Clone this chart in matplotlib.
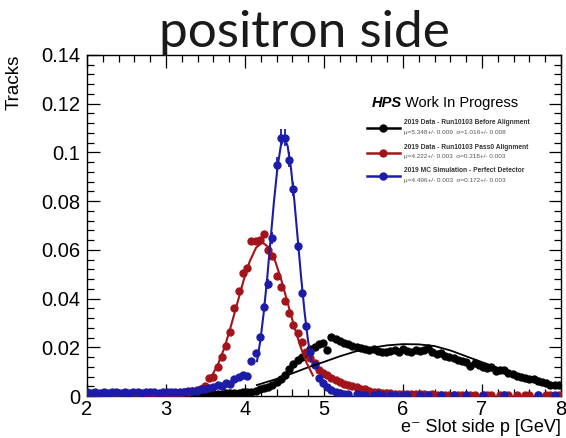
import numpy as np
import matplotlib
matplotlib.use("Agg")
from matplotlib import pyplot as plt
from matplotlib.ticker import MultipleLocator

nan = np.nan

# histogram binning: 150 bins from 0 to 8 GeV, shown from 2 to 8
edges = np.linspace(0, 8, 151)
centers = 0.5 * (edges[1:] + edges[:-1])
x = centers[37:]

# 2019 Data - Run10103 Before Alignment
black_y = [0.0004, 0.0005, 0.0004, 0.0005, 0.0004, 0.0005, 0.0005, 0.0004, 0.0005, 0.0005,
           0.0004, 0.0005, 0.0005, 0.0006, 0.0005, 0.0005, 0.0006, 0.0005, 0.0006, 0.0006,
           0.0006, 0.0005, 0.0006, 0.0007, 0.0006, 0.0007, 0.0007, 0.0008, 0.0008, 0.0009,
           0.0009, 0.0010, 0.0010, 0.0011, 0.0012, 0.0013, 0.0014, 0.0015, 0.0016, 0.0018,
           0.0021, 0.0027, 0.0031, 0.0037, 0.0046, 0.0056, 0.0070, 0.0088, 0.0110, 0.0132,
           0.0148, 0.0160, 0.0178, 0.0192, 0.0203, 0.0212, 0.0216, 0.0190, 0.0243, 0.0233,
           0.0225, 0.0219, 0.0212, 0.0205, 0.0201, 0.0196, 0.0193, 0.0189, 0.0192, 0.0184,
           0.0180, 0.0179, 0.0183, 0.0188, 0.0182, 0.0192, 0.0185, 0.0182, 0.0189, 0.0185,
           0.0189, 0.0196, 0.0182, 0.0172, 0.0175, 0.0165, 0.0160, 0.0155, 0.0148, 0.0143,
           0.0141, 0.0124, 0.0134, 0.0127, 0.0118, 0.0114, 0.0120, 0.0102, 0.0107, 0.0106,
           0.0095, 0.0089, 0.0084, 0.0078, 0.0073, 0.0068, 0.0068, 0.0062, 0.0056, 0.0052,
           0.0047, 0.0045, 0.0044]

# 2019 Data - Run10103 Pass0 Alignment
red_y = [0.0003, 0.0004, 0.0003, 0.0005, 0.0004, 0.0005, 0.0004, 0.0006, 0.0005, 0.0006,
         0.0005, 0.0007, 0.0006, 0.0007, 0.0008, 0.0007, 0.0009, 0.0008, 0.0010, 0.0009,
         0.0011, 0.0012, 0.0013, 0.0015, 0.0017, 0.0020, 0.0024, 0.0030, 0.0040, 0.0073,
         0.0080, 0.0118, 0.0162, 0.0206, 0.0262, 0.0360, 0.0432, 0.0504, 0.0527, 0.0636,
         0.0638, 0.0640, 0.0664, 0.0600, 0.0575, 0.0493, 0.0446, 0.0390, 0.0340, 0.0292,
         0.0257, 0.0223, 0.0180, 0.0155, 0.0135, 0.0107, 0.0095, 0.0086, 0.0073, 0.0065,
         0.0059, 0.0050, 0.0045, 0.0040, 0.0036, 0.0030, 0.0027, 0.0022, 0.0018, 0.0016,
         0.0014, 0.0012, 0.0011, 0.0010, 0.0010, 0.0009, 0.0009, 0.0008, 0.0008, 0.0007,
         0.0007, 0.0006, 0.0007, 0.0006, 0.0006, 0.0005, 0.0006, 0.0005, 0.0005, 0.0006,
         0.0005, 0.0004, 0.0005, nan, 0.0005, 0.0004, 0.0005, nan, 0.0004, 0.0005,
         0.0004, nan, 0.0005, nan, 0.0004, 0.0004, nan, 0.0005, nan, 0.0004,
         0.0005, nan, 0.0004]

# 2019 MC Simulation - Perfect Detector
blue_y = [0.0016, 0.0014, 0.0015, 0.0013, 0.0016, 0.0014, 0.0015, 0.0017, 0.0013, 0.0015,
          0.0014, 0.0016, 0.0015, 0.0013, 0.0016, 0.0015, 0.0017, 0.0014, 0.0016, 0.0015,
          0.0017, 0.0016, 0.0018, 0.0017, 0.0019, 0.0021, 0.0022, 0.0027, 0.0030, 0.0034,
          0.0036, 0.0045, 0.0040, 0.0052, 0.0048, 0.0068, 0.0076, 0.0086, 0.0082, 0.0142,
          0.0176, 0.0244, 0.0367, 0.0460, 0.0650, 0.0950, 0.1060, 0.1060, 0.0970, 0.0850,
          0.0616, 0.0424, 0.0287, 0.0180, 0.0127, 0.0075, 0.0052, 0.0036, 0.0024, 0.0016,
          0.0011, 0.0009, 0.0007, nan, 0.0008, 0.0006, 0.0006, nan, 0.0005, 0.0007,
          0.0005, nan, 0.0006, 0.0005, nan, 0.0006, 0.0005, nan, nan, 0.0006,
          nan, 0.0005, nan, nan, 0.0006, nan, nan, 0.0005, nan, nan,
          0.0005, nan, nan, nan, 0.0006, nan, nan, nan, nan, 0.0005,
          nan, nan, nan, nan, nan, nan, nan, 0.0005, nan, nan,
          nan, 0.0005, nan]
blue_peak_err = [0.0015, 0.002, 0.0025, 0.003, 0.0035, 0.0035, 0.003, 0.0028, 0.0022]

# fitted curves
black_fit_x = [4.15, 4.4, 4.6, 4.8, 5.0, 5.2, 5.4, 5.6, 5.8, 6.0,
               6.2, 6.4, 6.6, 6.8, 7.0, 7.2, 7.4, 7.6, 7.8, 8.0]
black_fit_y = [0.0045, 0.0070, 0.0093, 0.0118, 0.0140, 0.0163, 0.0183, 0.0198, 0.0208, 0.0213,
               0.0212, 0.0205, 0.0187, 0.0163, 0.0139, 0.0116, 0.0094, 0.0075, 0.0058, 0.0045]
red_fit_x = [3.58, 3.66, 3.74, 3.82, 3.90, 3.98, 4.06, 4.14, 4.22,
             4.30, 4.38, 4.46, 4.54, 4.62, 4.70, 4.78, 4.86]
red_fit_y = [0.0082, 0.0132, 0.0198, 0.0285, 0.0378, 0.0472, 0.0553, 0.0609, 0.0630,
             0.0611, 0.0556, 0.0476, 0.0382, 0.0289, 0.0205, 0.0136, 0.0084]
blue_fit_x = [4.152, 4.195, 4.238, 4.281, 4.324, 4.367, 4.410, 4.453, 4.496,
              4.539, 4.582, 4.625, 4.668, 4.711, 4.754, 4.797, 4.840]
blue_fit_y = [0.0143, 0.0229, 0.0345, 0.0485, 0.0643, 0.0800, 0.0935, 0.1027, 0.1060,
              0.1027, 0.0935, 0.0800, 0.0643, 0.0485, 0.0345, 0.0229, 0.0143]

labels = ["2019 Data - Run10103 Before Alignment",
          "2019 Data - Run10103 Pass0 Alignment",
          "2019 MC Simulation - Perfect Detector"]
stats = ["\u03bc=5.348+/- 0.009  \u03c3=1.016+/- 0.008",
         "\u03bc=4.222+/- 0.003  \u03c3=0.318+/- 0.003",
         "\u03bc=4.496+/- 0.003  \u03c3=0.172+/- 0.003"]
xticks = [2, 3, 4, 5, 6, 7, 8]
yticks = [0, 0.02, 0.04, 0.06, 0.08, 0.1, 0.12, 0.14]
ytick_labels = ["0", "0.02", "0.04", "0.06", "0.08", "0.1", "0.12", "0.14"]

BLACK = "#000000"
RED = "#a3141a"
BLUE = "#1c1ca8"

plt.rcParams['font.family'] = ['Liberation Sans', 'DejaVu Sans']

fig = plt.figure(figsize=(5.66, 4.38), dpi=100)
ax = fig.add_axes([87 / 566, 1 - 396 / 438, 474 / 566, 341 / 438])

blue_err = np.zeros(len(x))
blue_err[42:51] = blue_peak_err

ms = 5.0
ax.errorbar(x, black_y, fmt='o', ms=ms, color=BLACK, zorder=3)
ax.errorbar(x, red_y, fmt='o', ms=ms, color=RED, zorder=4)
ax.errorbar(x, blue_y, yerr=blue_err, fmt='o', ms=ms, color=BLUE,
            elinewidth=1.3, capsize=0, zorder=5)
ax.plot(black_fit_x, black_fit_y, color=BLACK, lw=1.3, zorder=6)
ax.plot(red_fit_x, red_fit_y, color=RED, lw=1.5, zorder=6)
ax.plot(blue_fit_x, blue_fit_y, color=BLUE, lw=1.5, zorder=6)

ax.set_xlim(2, 8)
ax.set_ylim(0, 0.14)
ax.set_xticks(xticks)
ax.set_yticks(yticks)
ax.set_yticklabels(ytick_labels)
ax.xaxis.set_minor_locator(MultipleLocator(0.2))
ax.yaxis.set_minor_locator(MultipleLocator(0.004))
ax.tick_params(which='both', direction='in', top=True, right=True, width=0.9)
ax.tick_params(which='major', length=9, labelsize=14.5, pad=5)
ax.tick_params(which='minor', length=5)
ax.tick_params(axis='x', pad=3)
for s in ax.spines.values():
    s.set_linewidth(1.0)

ax.set_ylabel("Tracks", fontsize=13.5, loc='top', labelpad=13)
ax.set_xlabel("e\u207b Slot side p [GeV]", fontsize=13, loc='right', labelpad=0)

# legend box drawn by hand like the ROOT canvas
ax.text(0.601, 0.859, "HPS", transform=ax.transAxes, fontsize=10.5,
        fontweight='bold', style='italic', va='center', ha='left')
ax.text(0.670, 0.859, "Work In Progress", transform=ax.transAxes, fontsize=10.5,
        va='center', ha='left')
entry_y = [0.786, 0.714, 0.645]
for yy, col, lab, st in zip(entry_y, [BLACK, RED, BLUE], labels, stats):
    ax.plot([0.591, 0.660], [yy, yy], color=col, lw=1.8, transform=ax.transAxes,
            clip_on=False, zorder=7)
    ax.plot([0.625], [yy], 'o', ms=ms, color=col, transform=ax.transAxes,
            clip_on=False, zorder=7)
    ax.text(0.668, yy + 0.016, lab, transform=ax.transAxes, fontsize=4.8,
            fontweight='bold', color='#333333', va='center', ha='left')
    ax.text(0.668, yy - 0.012, st, transform=ax.transAxes, fontsize=4.6,
            color='#555555', va='center', ha='left')

fig.text(0.537, 0.893, "positron side", fontsize=37, family=['Lato', 'DejaVu Sans'],
         ha='center', va='baseline', color='#1a1a1a')

fig.savefig("out.png", dpi=100)
